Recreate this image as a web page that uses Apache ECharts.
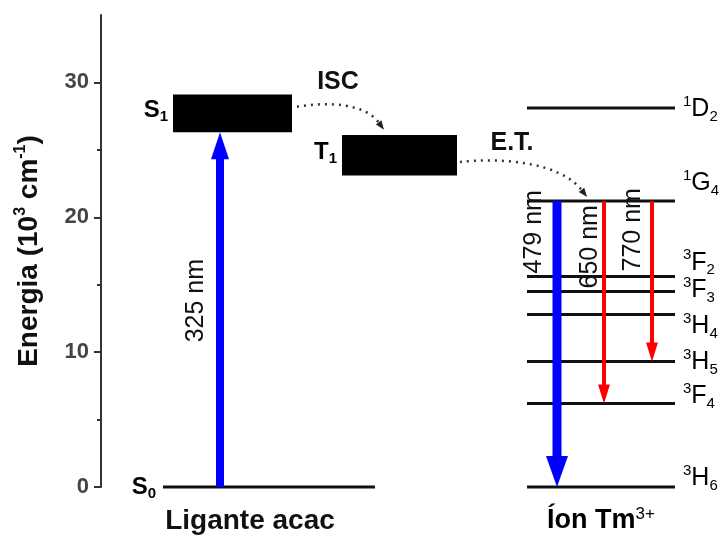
<!DOCTYPE html>
<html>
<head>
<meta charset="utf-8">
<script src="https://cdn.jsdelivr.net/npm/echarts@6/dist/echarts.min.js"></script>
<style>
  html, body { margin: 0; padding: 0; background: #fff; }
  #chart { width: 723px; height: 535px; }
</style>
</head>
<body>
<div id="chart"></div>
<script>
// energias em 10^3 cm^-1
const yTicks = [0, 10, 20, 30];
const yMinorTicks = [5, 15, 25];

// ligante acac
const ligandNames = ['S0', 'S1', 'T1'];
const ligandLow = [0, 26.3, 23.1];
const ligandHigh = [0, 29.1, 26.1];

// niveis do Tm3+
const tmSup = ['1', '1', '3', '3', '3', '3', '3', '3'];
const tmLetter = ['D', 'G', 'F', 'F', 'H', 'H', 'F', 'H'];
const tmSub = ['2', '4', '2', '3', '4', '5', '4', '6'];
const tmEnergy = [28.1, 21.2, 15.6, 14.5, 12.8, 9.3, 6.2, 0];

// transicoes radiativas
const transLabel = ['325 nm', '479 nm', '650 nm', '770 nm'];
const transFrom = [0, 21.2, 21.2, 21.2];
const transTo = [26.3, 0, 6.2, 9.3];

// transferencias (pontilhado): S1 -> T1, T1 -> 1G4
const transferLabel = ['ISC', 'E.T.'];
const transferFrom = [28.2, 24.1];
const transferTo = [26.5, 21.5];

const groupNames = ['Ligante acac', 'Íon Tm'];

// layout horizontal (eixo x escondido, 0..600 ~ pixels a partir do eixo y)
const X = {
  ligand: [62, 274],
  s1: [72, 191],
  t1: [241, 356],
  tm: [426, 574],
  trans: [119, 456, 503, 551],
  transDx: [-24, -23, -14, -19],   // deslocamento do rotulo (px)
  transTop: [0, -11, 4, -13],      // topo do rotulo em relacao ao 1G4 (px)
  termDy: [0, -19, -15, -2, 11, 0, -8, -10], // ajuste vertical dos rotulos do Tm (px)
  transferStart: [196, 359],
  transferEnd: [283, 486],
  transferCp1: [[229, 28.6], [399, 24.45]],
  transferCp2: [[264, 28.4], [459, 24.1]],
  transferText: [[237, 30.0], [411, 25.5]],
  group: [149, 500]
};

const FONT = '"Liberation Sans", Arial, sans-serif';
const INK = '#111';

const arrowStyle = [
  { color: '#0000ff', w: 8, hw: 18, hh: 27 },
  { color: '#0000ff', w: 9, hw: 22, hh: 31 },
  { color: '#ff0000', w: 4, hw: 12, hh: 19 },
  { color: '#ff0000', w: 4, hw: 12, hh: 19 }
];

const chart = echarts.init(document.getElementById('chart'));

const levelData = [];
levelData.push([X.ligand[0], X.ligand[1], ligandLow[0], -1]);
tmEnergy.forEach((e, i) => levelData.push([X.tm[0], X.tm[1], e, i]));

const boxData = [
  [X.s1[0], X.s1[1], ligandLow[1], ligandHigh[1], 1],
  [X.t1[0], X.t1[1], ligandLow[2], ligandHigh[2], 2]
];

const arrowData = transLabel.map((l, i) => [X.trans[i], transFrom[i], transTo[i], i]);
const transferData = transferLabel.map((l, i) => [X.transferStart[i], transferFrom[i], X.transferEnd[i], transferTo[i], i]);

const subRich = {
  b: { fontSize: 24, fontWeight: 'bold', color: INK, fontFamily: FONT, lineHeight: 28 },
  s: { fontSize: 15, fontWeight: 'bold', color: INK, fontFamily: FONT, verticalAlign: 'bottom', lineHeight: 15 }
};

const termRich = {
  sup: { fontSize: 15, color: INK, fontFamily: FONT, verticalAlign: 'top', lineHeight: 15 },
  m: { fontSize: 25, color: INK, fontFamily: FONT, lineHeight: 30 },
  sub: { fontSize: 15, color: INK, fontFamily: FONT, verticalAlign: 'bottom', lineHeight: 15 }
};

chart.setOption({
  animation: false,
  backgroundColor: '#fff',
  grid: { left: 101, right: 22, top: 15, bottom: 48 },
  xAxis: { type: 'value', min: 0, max: 600, show: false },
  yAxis: [
    {
      type: 'value', min: 0, max: 35,
      name: '{b|Energia (10}{s|3}{b| cm}{s|-1}{b|)}',
      nameLocation: 'middle', nameRotate: 90, nameGap: 56,
      nameTextStyle: {
        rich: {
          b: { fontSize: 28, fontWeight: 'bold', color: INK, fontFamily: FONT, lineHeight: 32 },
          s: { fontSize: 16, fontWeight: 'bold', color: INK, fontFamily: FONT, verticalAlign: 'top', lineHeight: 16 }
        }
      },
      splitLine: { show: false },
      axisLine: { show: true, lineStyle: { color: '#333', width: 2 } },
      axisTick: { show: true, customValues: yTicks, length: 7, lineStyle: { color: '#333', width: 2 } },
      axisLabel: {
        customValues: yTicks, margin: 12, fontSize: 22, fontWeight: 'bold',
        color: '#444', fontFamily: FONT
      }
    },
    {
      type: 'value', min: 0, max: 35, position: 'left',
      splitLine: { show: false },
      axisLine: { show: false },
      axisTick: { show: true, customValues: yMinorTicks, length: 4, lineStyle: { color: '#333', width: 2 } },
      axisLabel: { show: false }
    }
  ],
  series: [
    {
      // niveis de energia (linhas)
      type: 'custom',
      data: levelData,
      renderItem: function (params, api) {
        const a = api.coord([api.value(0), api.value(2)]);
        const b = api.coord([api.value(1), api.value(2)]);
        const idx = api.value(3);
        const children = [{
          type: 'line',
          shape: { x1: a[0], y1: a[1], x2: b[0], y2: b[1] },
          style: { stroke: INK, lineWidth: 3 }
        }];
        if (idx < 0) {
          children.push({
            type: 'text', x: a[0] - 7, y: a[1],
            style: { text: '{b|S}{s|0}', rich: subRich, align: 'right', verticalAlign: 'middle' }
          });
        } else {
          children.push({
            type: 'text', x: b[0] + 8, y: b[1] + 1 + X.termDy[idx],
            style: {
              text: '{sup|' + tmSup[idx] + '}{m|' + tmLetter[idx] + '}{sub|' + tmSub[idx] + '}',
              rich: termRich, align: 'left', verticalAlign: 'middle'
            }
          });
        }
        return { type: 'group', children: children };
      }
    },
    {
      // bandas S1 e T1
      type: 'custom',
      data: boxData,
      renderItem: function (params, api) {
        const tl = api.coord([api.value(0), api.value(3)]);
        const br = api.coord([api.value(1), api.value(2)]);
        const name = ligandNames[api.value(4)];
        return {
          type: 'group',
          children: [
            {
              type: 'rect',
              shape: { x: tl[0], y: tl[1], width: br[0] - tl[0], height: br[1] - tl[1] },
              style: { fill: '#000' }
            },
            {
              type: 'text', x: tl[0] - 5, y: (tl[1] + br[1]) / 2 - 3,
              style: { text: '{b|' + name[0] + '}{s|' + name[1] + '}', rich: subRich, align: 'right', verticalAlign: 'middle' }
            }
          ]
        };
      }
    },
    {
      // setas de absorcao / emissao
      type: 'custom',
      data: arrowData,
      renderItem: function (params, api) {
        const i = api.value(3);
        const st = arrowStyle[i];
        const p0 = api.coord([api.value(0), api.value(1)]);
        const p1 = api.coord([api.value(0), api.value(2)]);
        const dir = p1[1] > p0[1] ? 1 : -1;
        const baseY = p1[1] - dir * st.hh;
        const shaftEnd = baseY + dir * 2;
        const label = i === 0
          ? { x: p0[0] + X.transDx[i], y: (p0[1] + p1[1]) / 2 - 9, align: 'center' }
          : { x: p0[0] + X.transDx[i], y: p0[1] + X.transTop[i], align: 'right' };
        return {
          type: 'group',
          children: [
            {
              type: 'rect',
              shape: { x: p0[0] - st.w / 2, y: Math.min(p0[1], shaftEnd), width: st.w, height: Math.abs(shaftEnd - p0[1]) },
              style: { fill: st.color }
            },
            {
              type: 'polygon',
              shape: { points: [[p1[0], p1[1]], [p1[0] - st.hw / 2, baseY], [p1[0] + st.hw / 2, baseY]] },
              style: { fill: st.color }
            },
            {
              type: 'text', x: label.x, y: label.y, rotation: Math.PI / 2,
              style: {
                text: transLabel[i], fill: INK, fontSize: 25, fontFamily: FONT,
                align: label.align, verticalAlign: 'middle'
              }
            }
          ]
        };
      }
    },
    {
      // ISC e E.T. (curvas pontilhadas)
      type: 'custom',
      data: transferData,
      renderItem: function (params, api) {
        const i = api.value(4);
        const p0 = api.coord([api.value(0), api.value(1)]);
        const p1 = api.coord([api.value(2), api.value(3)]);
        const c1 = api.coord(X.transferCp1[i]);
        const c2 = api.coord(X.transferCp2[i]);
        const t = api.coord(X.transferText[i]);
        let ux = p1[0] - c2[0], uy = p1[1] - c2[1];
        const len = Math.sqrt(ux * ux + uy * uy);
        ux /= len; uy /= len;
        const hl = 9, hw = 7;
        const bx = p1[0] - ux * hl, by = p1[1] - uy * hl;
        return {
          type: 'group',
          children: [
            {
              type: 'bezierCurve',
              shape: { x1: p0[0], y1: p0[1], cpx1: c1[0], cpy1: c1[1], cpx2: c2[0], cpy2: c2[1], x2: bx, y2: by },
              style: { stroke: '#333', fill: null, lineWidth: 2.5, lineDash: [2, 5] }
            },
            {
              type: 'polygon',
              shape: { points: [[p1[0], p1[1]], [bx - uy * hw / 2, by + ux * hw / 2], [bx + uy * hw / 2, by - ux * hw / 2]] },
              style: { fill: '#222' }
            },
            {
              type: 'text', x: t[0], y: t[1],
              style: {
                text: transferLabel[i], fill: INK, fontSize: 25, fontWeight: 'bold',
                fontFamily: FONT, align: 'center', verticalAlign: 'middle'
              }
            }
          ]
        };
      }
    },
    {
      // nomes dos grupos
      type: 'custom',
      data: groupNames.map((g, i) => [X.group[i], 0, i]),
      renderItem: function (params, api) {
        const p = api.coord([api.value(0), api.value(1)]);
        const i = api.value(2);
        const style = i === 0
          ? { text: groupNames[0], fill: INK, fontSize: 28, fontWeight: 'bold', fontFamily: FONT }
          : {
              text: '{m|' + groupNames[1] + '}{sup|3+}',
              rich: {
                m: { fontSize: 27, fontWeight: 'bold', color: INK, fontFamily: FONT, lineHeight: 30 },
                sup: { fontSize: 17, color: INK, fontFamily: FONT, verticalAlign: 'top', lineHeight: 17 }
              }
            };
        style.align = 'center';
        style.verticalAlign = 'middle';
        return { type: 'text', x: p[0], y: p[1] + 34, style: style };
      }
    }
  ]
});
</script>
</body>
</html>
